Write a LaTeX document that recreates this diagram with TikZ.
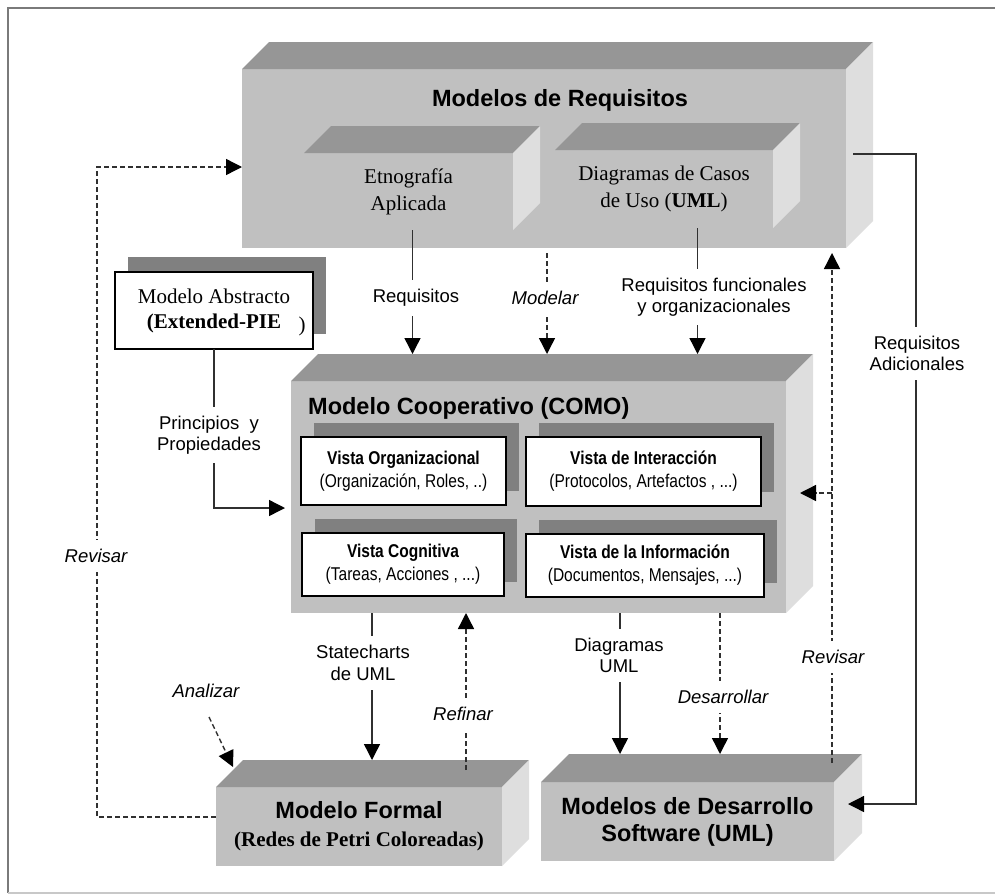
\documentclass[tikz,border=0pt]{standalone}
\usepackage{fontspec}
\setmainfont{Liberation Serif}
\setsansfont{Liberation Sans}
\newfontfamily\narrowsans[FakeStretch=0.84]{Liberation Sans}
\usetikzlibrary{arrows.meta,shadows}

\definecolor{topc}{HTML}{969696}
\definecolor{frontc}{HTML}{C0C0C0}
\definecolor{sidec}{HTML}{DEDEDE}
\definecolor{shadowc}{HTML}{808080}
\definecolor{linec}{HTML}{303030}
\definecolor{framec}{HTML}{7A7A7A}
\definecolor{framelight}{HTML}{C8C8C8}

% top and right faces of a block drawn as a 3D box
\newcommand\boxfaces[2]{%
  \fill[topc] (#1.north west) -- ([shift={(#2,-#2)}]#1.north west)
     -- ([shift={(#2,-#2)}]#1.north east) -- (#1.north east) -- cycle;
  \fill[sidec] (#1.north east) -- ([shift={(#2,-#2)}]#1.north east)
     -- ([shift={(#2,-#2)}]#1.south east) -- (#1.south east) -- cycle;}

\tikzset{
  front/.style={fill=frontc, inner sep=0pt, outer sep=0pt, align=center},
  serifsize/.style={font=\rmfamily\fontsize{21}{27}\selectfont},
  title/.style={inner sep=0pt, font=\sffamily\bfseries\fontsize{23.5}{27}\selectfont},
  view/.style={draw=black, line width=1.6pt, fill=white, inner sep=0pt, outer sep=0pt,
    align=center, font=\narrowsans\fontsize{18.5}{23}\selectfont,
    drop shadow={shadow xshift=13pt, shadow yshift=14pt, opacity=1, fill=shadowc, draw=none}},
  absbox/.style={draw=black, line width=1.6pt, fill=white, inner sep=0pt, outer sep=0pt,
    align=center, font=\rmfamily\fontsize{21}{25}\selectfont,
    drop shadow={shadow xshift=13pt, shadow yshift=15pt, opacity=1, fill=shadowc, draw=none}},
  conn/.style={draw=linec, line width=1.4pt, -{Triangle[length=16pt,width=16pt,color=black]}},
  dconn/.style={conn, dash pattern=on 5pt off 3pt},
  lab/.style={fill=white, inner xsep=3pt, inner ysep=9pt, align=center,
    font=\sffamily\fontsize{18.5}{21.5}\selectfont},
  ilab/.style={lab, font=\sffamily\itshape\fontsize{18.5}{21.5}\selectfont},
}

\begin{document}
\begin{tikzpicture}[x=1pt,y=-1pt]
\useasboundingbox (0,0) rectangle (995,894);

% page frame
\draw[draw=framec, line width=2pt] (995,7.5) -- (7.5,7.5) -- (7.5,893);
\draw[draw=framelight, line width=1.2pt] (7.5,893) -- (995,893);

% requirements models
\node[front, minimum width=604pt, minimum height=179pt] (req) at (544,158.5) {};
\boxfaces{req}{27}
\node[front, serifsize, minimum width=209pt, minimum height=77pt] (etn) at (408.5,191.5)
  {Etnografía\\Aplicada};
\boxfaces{etn}{27}
\node[front, serifsize, minimum width=218pt, minimum height=78pt] (dcu) at (664,189)
  {Diagramas de Casos\\de Uso (\textbf{UML})};
\boxfaces{dcu}{27}
\node[title, anchor=base] (treq) at (560,106) {Modelos de Requisitos};

% cooperative model with its four views
\node[front, minimum width=495pt, minimum height=232pt] (como) at (538.5,497) {};
\boxfaces{como}{27}
\node[title, anchor=base west] (tcomo) at (308,414) {Modelo Cooperativo (COMO)};
\node[view, minimum width=205pt, minimum height=68pt] (vorg) at (403.5,471)
  {\bfseries Vista Organizacional\\(Organización, Roles, ..)};
\node[view, minimum width=235pt, minimum height=69pt] (vint) at (643.5,471.5)
  {\bfseries Vista de Interacción\\(Protocolos, Artefactos , ...)};
\node[view, minimum width=202pt, minimum height=63pt] (vcog) at (403,564.5)
  {\bfseries Vista Cognitiva\\(Tareas, Acciones , ...)};
\node[view, minimum width=238pt, minimum height=63pt] (vinf) at (645,565.5)
  {\bfseries Vista de la Información\\(Documentos, Mensajes, ...)};

% abstract model
\node[absbox, minimum width=198pt, minimum height=77pt] (abs) at (214,310.5)
  {Modelo Abstracto\\\textbf{(Extended-PIE}};
\node[inner sep=0pt, font=\rmfamily\fontsize{21}{25}\selectfont] (absparen) at (302,326) {)};

% formal model
\node[front, minimum width=286pt, minimum height=79pt, font=\rmfamily\bfseries\fontsize{21}{28}\selectfont]
  (formal) at (359,826.5)
  {{\sffamily\fontsize{23.5}{28}\selectfont Modelo Formal}\\(Redes de Petri Coloreadas)};
\boxfaces{formal}{27}

% software development models
\node[front, minimum width=293pt, minimum height=79pt, font=\sffamily\bfseries\fontsize{23.5}{27}\selectfont]
  (dev) at (687.5,821.5) {Modelos de Desarrollo\\Software (UML)};
\boxfaces{dev}{28}

% connector end points
\coordinate (comoback) at ([shift={(27,-27)}]como.north west);
\coordinate (formalback) at ([shift={(27,-27)}]formal.north west);
\coordinate (devback) at ([shift={(28,-28)}]dev.north west);
\coordinate (reqbot) at ([yshift=-5pt]req.south);

\coordinate (rA) at ([xshift=4pt]etn.south);
\coordinate (rB) at (rA |- comoback);
\coordinate (mA) at ([xshift=3pt]reqbot);
\coordinate (mB) at (mA |- comoback);
\coordinate (fA) at ([xshift=33.5pt]dcu.south);
\coordinate (fB) at (fA |- comoback);

\coordinate (prB) at ([shift={(-6,11)}]como.west);

\coordinate (stA) at ([xshift=-166.5pt]como.south);
\coordinate (stB) at (stA |- formalback);
\coordinate (rfB) at ([xshift=-72.5pt]como.south);
\coordinate (rfy) at ([yshift=-10pt]formalback);
\coordinate (rfA) at (rfB |- rfy);
\coordinate (dgA) at ([xshift=81.5pt]como.south);
\coordinate (dgB) at (dgA |- devback);
\coordinate (dsA) at ([xshift=181.5pt]como.south);
\coordinate (dsB) at (dsA |- devback);

\coordinate (rvA) at ([yshift=9.5pt]formal.west);
\coordinate (rvB) at ([yshift=-8.5pt]req.west);

\coordinate (rvC) at ([shift={(-2,-19)}]dev.north east);
\coordinate (rvD) at (rvC |- reqbot);
\coordinate (rvF) at ([shift={(14,-4)}]como.east);
\coordinate (rvE) at (rvC |- rvF);

\coordinate (rqA) at ([shift={(7,-4.5)}]req.east);
\coordinate (rqB) at ([shift={(14,-17.5)}]dev.east);

\coordinate (anA) at (209,717);
\coordinate (anB) at ([shift={(17,-20)}]formal.north west);

% connectors
\draw[conn] (rA) -- (rB);
\draw[dconn] (mA) -- (mB);
\draw[conn] (fA) -- (fB);
\draw[conn] (abs.south) |- (prB);
\draw[conn] (stA) -- (stB);
\draw[dconn] (rfA) -- (rfB);
\draw[conn] (dgA) -- (dgB);
\draw[dconn] (dsA) -- (dsB);
\draw[dconn] (rvA) -- ++(-119,0) |- (rvB);
\draw[dconn] (rvC) -- (rvD);
\draw[dconn] (rvE) -- (rvF);
\draw[conn] (rqA) -- ++(63,0) |- (rqB);
\draw[dconn] (anA) -- (anB);

% connector labels
\node[lab] (lreq) at (416,298) {Requisitos};
\node[ilab] (lmod) at (545,298) {Modelar};
\node[lab] (lfun) at (714,297) {Requisitos funcionales\\y organizacionales};
\node[lab] (lpri) at (209,435) {Principios\ \ y\\Propiedades};
\node[ilab] (lrv1) at (96,556) {Revisar};
\node[ilab, fill=none] (lana) at (206,691) {Analizar};
\node[lab] (lst) at (363,663) {Statecharts\\de UML};
\node[ilab] (lref) at (463,714) {Refinar};
\node[lab] (ldg) at (619,655.5) {Diagramas\\UML};
\node[ilab] (ldes) at (723,697) {Desarrollar};
\node[ilab] (lrv2) at (833,657) {Revisar};
\node[lab] (lad) at (917,353.5) {Requisitos\\Adicionales};
\end{tikzpicture}
\end{document}
